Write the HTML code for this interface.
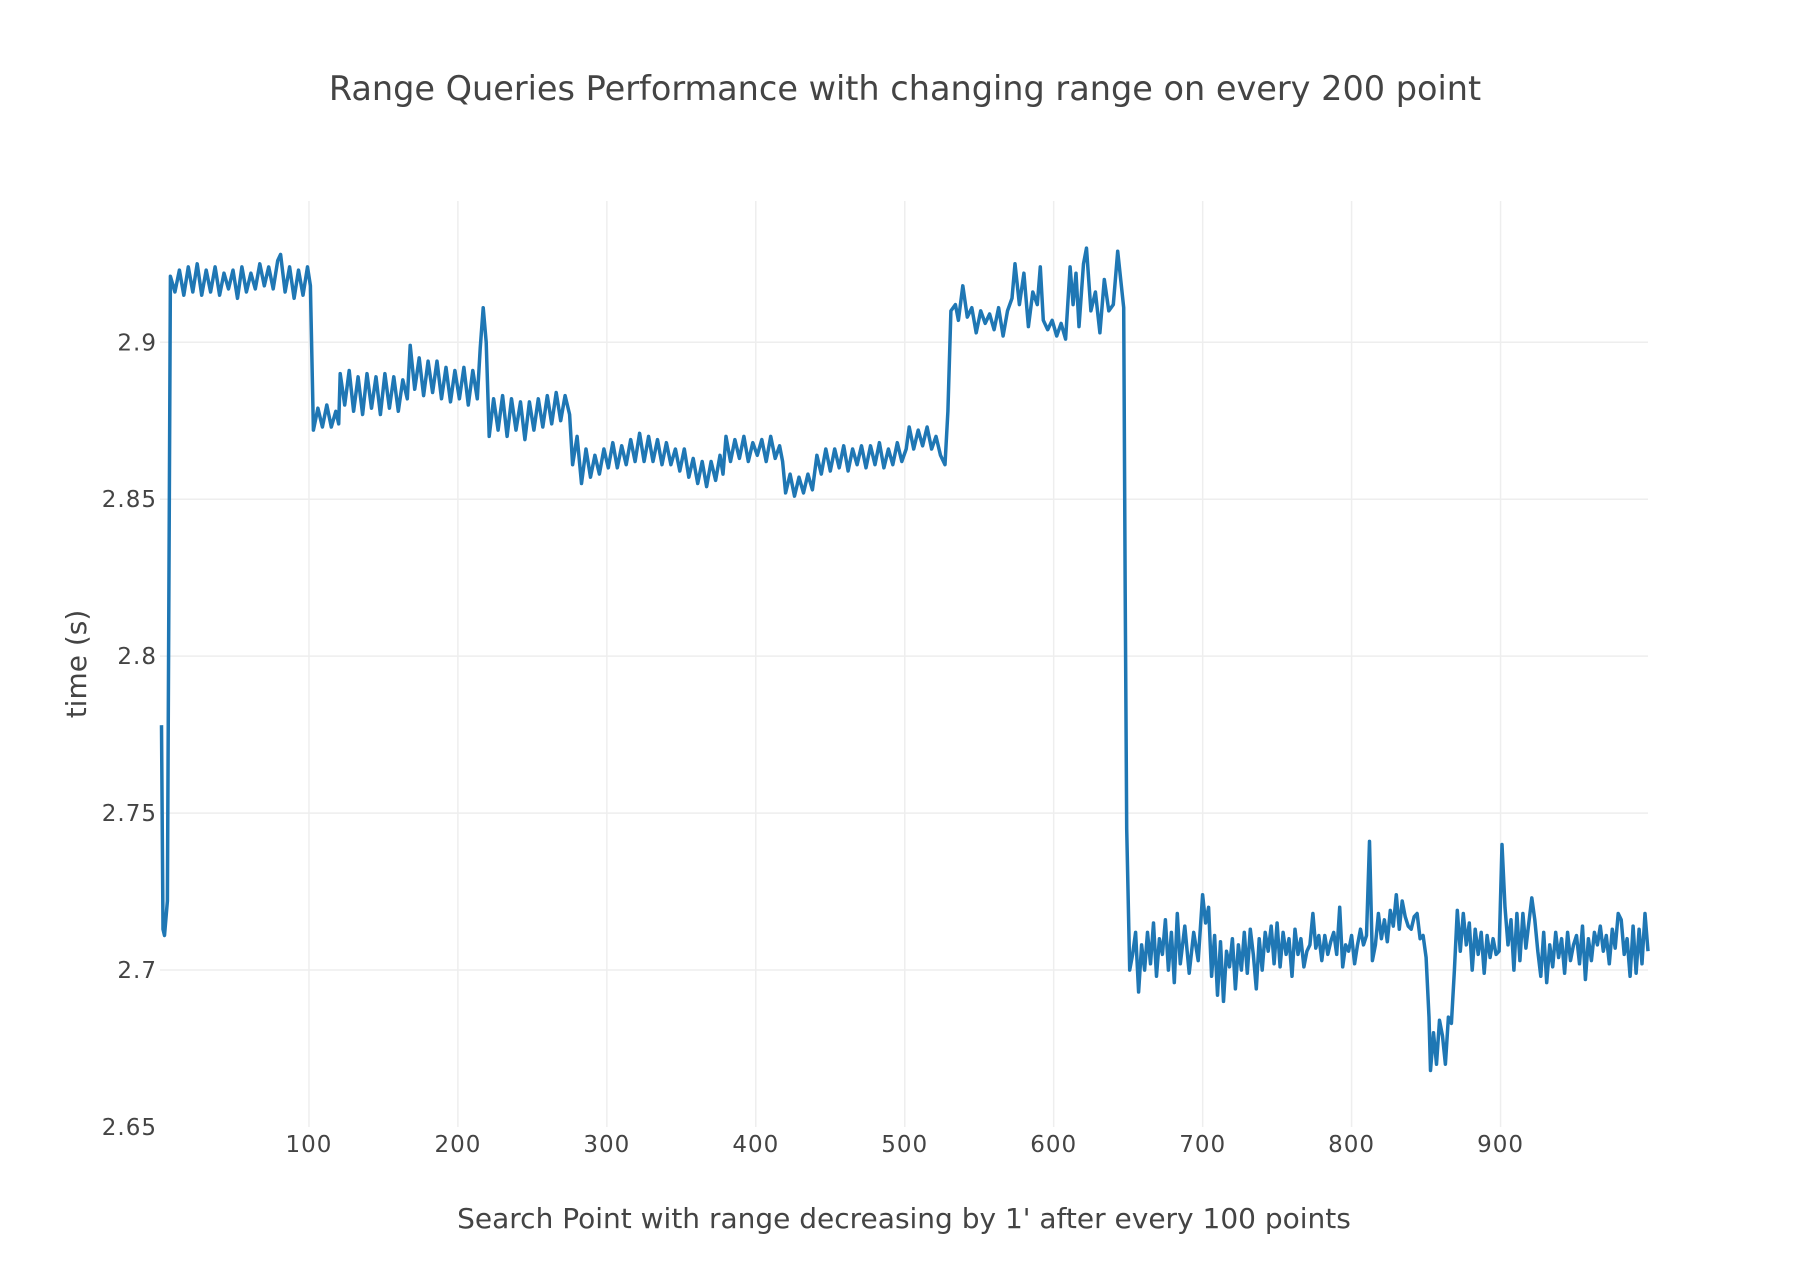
<!DOCTYPE html>
<html><head><meta charset="utf-8"><style>
html,body{margin:0;padding:0;background:#fff;}
svg{display:block;font-family:"DejaVu Sans","Liberation Sans",sans-serif;}
</style></head><body>
<svg id="chart" width="1810" height="1284" viewBox="0 0 1810 1284" xmlns="http://www.w3.org/2000/svg">
<rect x="0" y="0" width="1810" height="1284" fill="#fff"/>
<text x="905" y="100" text-anchor="middle" font-size="33.5" fill="#444">Range Queries Performance with changing range on every 200 point</text>
<g id="grid"></g>
<g id="series"></g>
<g id="xticks"></g>
<g id="yticks"></g>
<text x="904" y="1228" text-anchor="middle" font-size="28" fill="#444">Search Point with range decreasing by 1' after every 100 points</text>
<text transform="translate(86,664) rotate(-90)" text-anchor="middle" font-size="28" fill="#444">time (s)</text>
</svg>
<script>
const xTicks = [100,200,300,400,500,600,700,800,900];
const yTicks = [2.65,2.7,2.75,2.8,2.85,2.9];
const yTickLabels = ["2.65","2.7","2.75","2.8","2.85","2.9"];
const xs = [1,2,3,5,7,10,13,16,19,22,25,28,31,34,37,40,43,46,49,52,55,58,61,64,67,70,73,76,79,81,84,87,90,93,96,99,101,103,106,109,112,115,118,120,121,124,127,130,133,136,139,142,145,148,151,154,157,160,163,166,168,171,174,177,180,183,186,189,192,195,198,201,204,207,210,213,215,217,219,221,224,227,230,233,236,239,242,245,248,251,254,257,260,263,266,269,272,275,277,280,283,286,289,292,295,298,301,304,307,310,313,316,319,322,325,328,331,334,337,340,343,346,349,352,355,358,361,364,367,370,373,376,378,380,383,386,389,392,395,398,401,404,407,410,413,416,418,420,423,426,429,432,435,438,441,444,447,450,453,456,459,462,465,468,471,474,477,480,483,486,489,492,495,498,501,503,506,509,512,515,518,521,524,527,529,531,534,536,539,542,545,548,551,554,557,560,563,566,569,572,574,577,580,583,586,589,591,593,596,599,602,605,608,611,613,615,617,620,622,625,628,631,634,637,640,643,645,647,648,649,651,653,655,657,659,661,663,665,667,669,671,673,675,677,679,681,683,685,688,691,694,697,700,702,704,706,708,710,712,714,716,718,720,722,724,726,728,730,732,734,736,738,740,742,744,746,748,750,752,754,756,758,760,762,764,766,768,770,772,774,776,778,780,782,784,786,788,790,792,794,796,798,800,802,804,806,808,810,812,814,816,818,820,822,824,826,828,830,832,834,836,838,840,842,844,846,848,850,852,853,855,857,859,861,863,865,867,869,871,873,875,877,879,881,883,885,887,889,891,893,895,897,899,901,903,905,907,909,911,913,915,917,919,921,923,925,927,929,931,933,935,937,939,941,943,945,947,949,951,953,955,957,959,961,963,965,967,969,971,973,975,977,979,981,983,985,987,989,991,993,995,997,999];
const ys = [2.778,2.713,2.711,2.722,2.921,2.916,2.923,2.915,2.924,2.916,2.925,2.915,2.923,2.916,2.924,2.915,2.922,2.917,2.923,2.914,2.924,2.916,2.922,2.917,2.925,2.918,2.924,2.917,2.926,2.928,2.916,2.924,2.914,2.923,2.915,2.924,2.918,2.872,2.879,2.873,2.880,2.873,2.878,2.874,2.890,2.880,2.891,2.878,2.889,2.877,2.890,2.879,2.889,2.877,2.890,2.879,2.889,2.878,2.888,2.882,2.899,2.885,2.895,2.883,2.894,2.884,2.894,2.882,2.892,2.881,2.891,2.882,2.892,2.880,2.891,2.882,2.898,2.911,2.900,2.870,2.882,2.872,2.883,2.870,2.882,2.872,2.881,2.869,2.881,2.872,2.882,2.873,2.883,2.874,2.884,2.875,2.883,2.877,2.861,2.870,2.855,2.866,2.857,2.864,2.858,2.866,2.860,2.868,2.860,2.867,2.861,2.869,2.862,2.871,2.862,2.870,2.862,2.869,2.861,2.868,2.861,2.866,2.859,2.866,2.857,2.863,2.855,2.862,2.854,2.862,2.856,2.864,2.858,2.870,2.862,2.869,2.863,2.870,2.862,2.868,2.864,2.869,2.862,2.870,2.863,2.867,2.862,2.852,2.858,2.851,2.857,2.852,2.858,2.853,2.864,2.858,2.866,2.859,2.866,2.860,2.867,2.859,2.866,2.861,2.867,2.860,2.867,2.861,2.868,2.860,2.866,2.861,2.868,2.862,2.866,2.873,2.866,2.872,2.867,2.873,2.866,2.870,2.864,2.861,2.878,2.910,2.912,2.907,2.918,2.908,2.911,2.903,2.910,2.906,2.909,2.904,2.911,2.902,2.910,2.914,2.925,2.912,2.922,2.905,2.916,2.912,2.924,2.907,2.904,2.907,2.902,2.906,2.901,2.924,2.912,2.922,2.905,2.925,2.930,2.910,2.916,2.903,2.920,2.910,2.912,2.929,2.920,2.911,2.820,2.745,2.700,2.705,2.712,2.693,2.708,2.700,2.712,2.702,2.715,2.698,2.710,2.705,2.716,2.700,2.712,2.696,2.718,2.702,2.714,2.699,2.712,2.703,2.724,2.715,2.720,2.698,2.711,2.692,2.709,2.690,2.706,2.701,2.710,2.694,2.708,2.700,2.712,2.699,2.713,2.705,2.694,2.710,2.700,2.712,2.706,2.714,2.702,2.715,2.701,2.712,2.705,2.710,2.698,2.713,2.705,2.710,2.701,2.706,2.708,2.718,2.707,2.711,2.703,2.711,2.705,2.709,2.712,2.705,2.720,2.701,2.708,2.706,2.711,2.702,2.708,2.713,2.708,2.711,2.741,2.703,2.708,2.718,2.710,2.716,2.709,2.719,2.714,2.724,2.713,2.722,2.717,2.714,2.713,2.717,2.718,2.710,2.711,2.704,2.685,2.668,2.680,2.670,2.684,2.679,2.670,2.685,2.683,2.700,2.719,2.706,2.718,2.708,2.715,2.700,2.713,2.705,2.712,2.699,2.711,2.704,2.710,2.705,2.706,2.740,2.720,2.708,2.716,2.700,2.718,2.703,2.718,2.707,2.715,2.723,2.716,2.706,2.698,2.712,2.696,2.708,2.701,2.712,2.704,2.710,2.699,2.712,2.703,2.708,2.711,2.702,2.714,2.697,2.710,2.703,2.712,2.708,2.714,2.706,2.711,2.702,2.713,2.707,2.718,2.716,2.705,2.710,2.698,2.714,2.699,2.713,2.702,2.718,2.706];

const NS = "http://www.w3.org/2000/svg";
const plotL = 160, plotR = 1648, plotT = 201, plotB = 1127;
const xMin = 0, xMax = 999, yMin = 2.65, yMax = 2.945;
function xScale(v){ return plotL + (v - xMin) / (xMax - xMin) * (plotR - plotL); }
function yScale(v){ return plotB - (v - yMin) / (yMax - yMin) * (plotB - plotT); }

const grid = document.getElementById('grid');
const xt = document.getElementById('xticks');
const yt = document.getElementById('yticks');

xTicks.forEach(function(t){
  const l = document.createElementNS(NS, 'line');
  
  
  l.setAttribute('x1', xScale(t)); l.setAttribute('x2', xScale(t));
  l.setAttribute('y1', plotT); l.setAttribute('y2', plotB);
  l.setAttribute('stroke', '#eee'); l.setAttribute('stroke-width', '1.5');
  grid.appendChild(l);
  const tx = document.createElementNS(NS, 'text');
  
  
  tx.setAttribute('x', xScale(t)); tx.setAttribute('y', 1152);
  tx.setAttribute('text-anchor', 'middle'); tx.setAttribute('font-size', '23'); tx.setAttribute('letter-spacing', '1'); tx.setAttribute('fill', '#444');
  tx.textContent = String(t);
  xt.appendChild(tx);
});
yTicks.forEach(function(t, i){
  if (i > 0) {
    const l = document.createElementNS(NS, 'line');
    
    
    l.setAttribute('x1', plotL); l.setAttribute('x2', plotR);
    l.setAttribute('y1', yScale(t)); l.setAttribute('y2', yScale(t));
    l.setAttribute('stroke', '#eee'); l.setAttribute('stroke-width', '1.5');
    grid.appendChild(l);
  }
  const tx = document.createElementNS(NS, 'text');
  
  
  tx.setAttribute('x', 157); tx.setAttribute('y', yScale(t) + 8);
  tx.setAttribute('text-anchor', 'end'); tx.setAttribute('font-size', '23'); tx.setAttribute('letter-spacing', '1'); tx.setAttribute('fill', '#444');
  tx.textContent = yTickLabels[i];
  yt.appendChild(tx);
});

let d = '';
for (let i = 0; i < xs.length; i++) {
  d += (i ? 'L' : 'M') + xScale(xs[i]).toFixed(1) + ',' + yScale(ys[i]).toFixed(1);
}
const path = document.createElementNS(NS, 'path');


path.setAttribute('d', d);
path.setAttribute('fill', 'none');
path.setAttribute('stroke', '#1f77b4');
path.setAttribute('stroke-width', '3.5');
path.setAttribute('stroke-linejoin', 'round');
document.getElementById('series').appendChild(path);
</script>
</body></html>
